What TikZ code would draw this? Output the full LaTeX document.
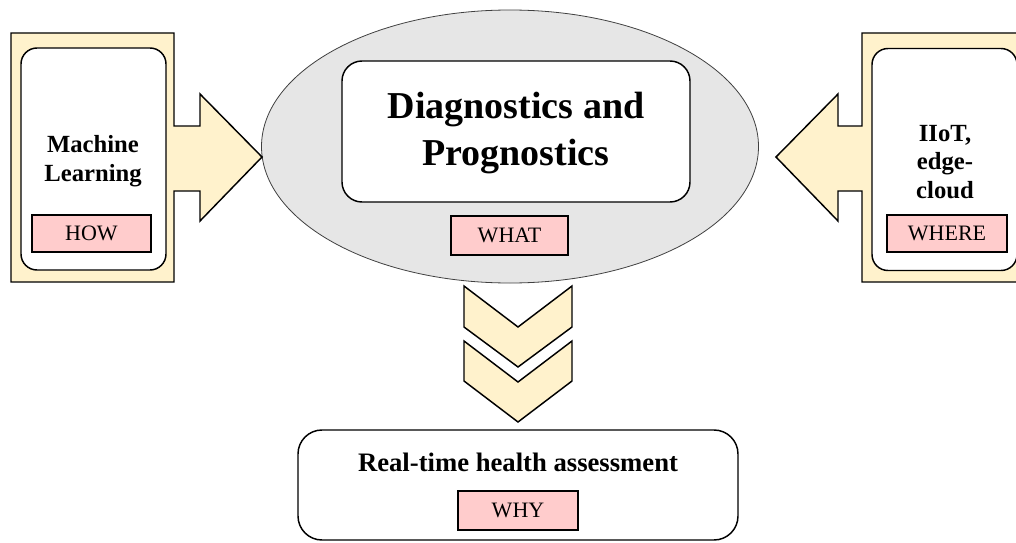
\documentclass[tikz,border=0pt]{standalone}
\usepackage{fontspec}
\setmainfont{Liberation Serif}
\usetikzlibrary{shapes.geometric}
\definecolor{cream}{HTML}{FFF2CC}
\definecolor{rosy}{HTML}{FFCCCC}
\definecolor{ovalgrey}{HTML}{E6E6E6}
\tikzset{
  callout/.style={draw=black, fill=cream, line width=1.1pt, line join=miter},
  panel/.style={draw=black, fill=white, line width=1.1pt, rounded corners=12pt, inner sep=0pt},
  tag/.style={draw=black, fill=rosy, line width=1.1pt, inner sep=0pt,
    font=\fontsize{16.5}{18}\selectfont},
  heading/.style={align=center, font=\bfseries\fontsize{18.5}{21.5}\selectfont},
  chevron/.style={draw=black, fill=cream, line width=1.1pt, line join=miter}
}
\begin{document}
\begin{tikzpicture}[x=0.75pt, y=-0.75pt]
\useasboundingbox (0,0) rectangle (1016,542);
\clip (0,0) rectangle (1016,542);

% central oval
\node (oval) [ellipse, draw=black!75, line width=0.6pt, fill=ovalgrey,
  minimum width=372.75pt, minimum height=204.75pt, inner sep=0pt] at (510,146.5) {};

% left callout: frame with an arrow pointing at the oval
\path[callout] (11,33) -- (174,33) -- (174,126) -- (200,126) -- (200,94)
  -- (262,157) -- (200,221) -- (200,191) -- (174,191) -- (174,282)
  -- (11,282) -- cycle;
% right callout, mirrored
\path[callout] (1025,33) -- (862,33) -- (862,126) -- (838,126) -- (838,94)
  -- (776,157) -- (838,221) -- (838,191) -- (862,191) -- (862,282)
  -- (1025,282) -- cycle;

% central panel
\node (core) [panel, rounded corners=15pt, minimum width=261pt, minimum height=105.75pt]
  at (516,131.5) {};
\node (coretext) [align=center, font=\bfseries\fontsize{28.5}{35}\selectfont]
  at (516,133) {Diagnostics and\\Prognostics};
\node (what) [tag, minimum width=87.75pt, minimum height=29.25pt] at (509.5,235.5) {WHAT};

% left panel
\node (ml) [panel, minimum width=108.75pt, minimum height=166.5pt] at (93.5,159) {};
\node (mltext) [heading] at (93,161) {Machine\\Learning};
\node (how) [tag, minimum width=89.25pt, minimum height=27.75pt] at (91.5,233.5) {HOW};

% right panel
\node (iiot) [panel, minimum width=108.75pt, minimum height=166.5pt] at (944.5,159.5) {};
\node (iiottext) [heading] at (945,162) {IIoT,\\edge-\\cloud};
\node (where) [tag, minimum width=90pt, minimum height=27.75pt] at (947,233.5) {WHERE};

% chevrons leading down
\path[chevron] (464,286) -- (518,327) -- (572,286) -- (572,327) -- (518,367) -- (464,327) -- cycle;
\path[chevron] (464,341) -- (518,382) -- (572,341) -- (572,381) -- (518,422) -- (464,381) -- cycle;

% bottom panel
\node (rt) [panel, rounded corners=18pt, minimum width=330pt, minimum height=82.5pt] at (518,485) {};
\node (rttext) [font=\bfseries\fontsize{20}{24}\selectfont] at (518,462) {Real-time health assessment};
\node (why) [tag, minimum width=90pt, minimum height=29.25pt] at (518,510.5) {WHY};
\end{tikzpicture}
\end{document}
